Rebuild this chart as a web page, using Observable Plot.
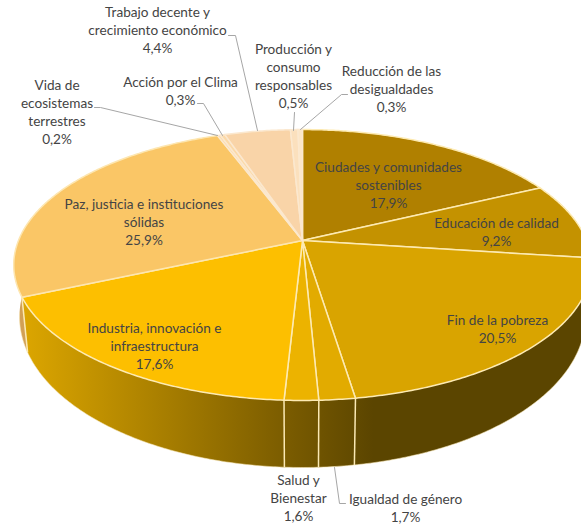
<!DOCTYPE html>
<html><head><meta charset="utf-8">
<script src="https://cdn.jsdelivr.net/npm/d3@7"></script>
<script src="https://cdn.jsdelivr.net/npm/@observablehq/plot@0.6"></script>
<style>html,body{margin:0;padding:0;background:#fff;overflow:hidden}svg{display:block}</style>
</head><body><div id="chart"></div>
<script>
const categories = ["Ciudades y comunidades sostenibles","Educación de calidad","Fin de la pobreza","Igualdad de género","Salud y Bienestar","Industria, innovación e infraestructura","Paz, justicia e instituciones sólidas","Vida de ecosistemas terrestres","Acción por el Clima","Trabajo decente y crecimiento económico","Producción y consumo responsables","Reducción de las desigualdades"];
const values = [17.9,9.2,20.5,1.7,1.6,17.6,25.9,0.2,0.3,4.4,0.5,0.3];
const valueLabels = ["17,9%","9,2%","20,5%","1,7%","1,6%","17,6%","25,9%","0,2%","0,3%","4,4%","0,5%","0,3%"];
const labelLines = [
 "Ciudades y comunidades\nsostenibles","Educación de calidad","Fin de la pobreza","Igualdad de género","Salud y\nBienestar",
 "Industria, innovación e\ninfraestructura","Paz, justicia e instituciones\nsólidas","Vida de\necosistemas\nterrestres","Acción por el Clima",
 "Trabajo decente y\ncrecimiento económico","Producción y\nconsumo\nresponsables","Reducción de las\ndesigualdades"];
const colors = ["#b08000","#c49200","#d9a400","#e2ab00","#ecb300","#fdbf00","#fac666","#fbd9a8","#fbd9a8","#f9d4a8","#fbe0bd","#fce6c8"];
const edgeColors = ["#fdeab2","#fdeab2","#fdeab2","#fdeab2","#fdeab2","#fdeab2","#fde6b0","#fbe8cf","#fbe8cf","#fbe8cf","#fbe8cf","#fbe8cf"];
// label placement (plot units)
const labelX = [388,496,497,405,298,154,143.5,56.5,180,157,293,391];
const labelY = [184,231,328,507,497,345,221,111,90,28.5,75,88];
const leaders = [
 {id:"trabajo",pts:[[228,35],[235,35],[257,130]]},
 {id:"produccion",pts:[[294,112],[293,130]]},
 {id:"reduccion",pts:[[347,94],[341,94],[300,129]]},
 {id:"accion",pts:[[197,103],[203,103],[222,135]]},
 {id:"vida",pts:[[94,107],[100,107],[217,135]]},
 {id:"igualdad",pts:[[345,503],[339,503],[334,467]]}
];
// perspective disc, and the ellipse of the lower edge
const cx=302, cy=240, R=284, S=131, k=0.181;
const topEll={rx:289,ry:135.5,yc:264.5}, lowEll={rx:283,ry:151,yc:316};
function project(a){
  const u=Math.sin(a), v=Math.cos(a), d=1+k*v;
  return {x:cx+R*u/d, y:cy-S*v/d};
}
function lower(a){
  const p=project(a);
  const phi=Math.atan2((p.x-cx)/topEll.rx,(topEll.yc-p.y)/topEll.ry);
  return {x:cx+lowEll.rx*Math.sin(phi), y:lowEll.yc-lowEll.ry*Math.cos(phi)};
}
const total=d3.sum(values);
let cum=0;
const slices=values.map((v,i)=>{const a0=cum/total*2*Math.PI; cum+=v; return {i,a0,a1:cum/total*2*Math.PI};});
function arc(a0,a1,step=0.01){const n=Math.max(2,Math.ceil((a1-a0)/step));return d3.range(n+1).map(j=>a0+(a1-a0)*j/n);}
const topPts=slices.flatMap(s=>{
  const ring=[{x:cx,y:cy},...arc(s.a0,s.a1).map(a=>project(a)),{x:cx,y:cy}];
  return ring.map(p=>({...p,z:s.i,fill:colors[s.i],stroke:edgeColors[s.i]}));
});
function wallRing(a0,a1){
  const as=arc(a0,a1);
  return [...as.map(project),...as.slice().reverse().map(lower)];
}
// walls: front slices share one horizontal shade; Paz has its own tan
const frontWall=wallRing(slices[0].a1*0.9,slices[5].a1);
const pazWall=wallRing(slices[6].a0,slices[6].a0+0.5);
const frontBottom=arc(Math.PI*0.5,Math.PI*1.45).map(a=>lower(a));
const separators=slices.filter(s=>[3,4,5,6].includes(s.i)).map(s=>{const p=project(s.a0),q=lower(s.a0);return {x1:p.x,y1:p.y,x2:q.x,y2:q.y};});
const leaderPts=leaders.flatMap(l=>l.pts.map(([x,y])=>({x,y,z:l.id})));
const labels=categories.map((c,i)=>({text:labelLines[i]+"\n"+valueLabels[i],x:labelX[i],y:labelY[i]}));

function wallGradient(){
  const defs=document.createElementNS("http://www.w3.org/2000/svg","defs");
  defs.innerHTML=`<linearGradient id="wallFront" gradientUnits="userSpaceOnUse" x1="22" y1="0" x2="373" y2="0">
    <stop offset="0" stop-color="#dca600"/><stop offset="0.74" stop-color="#7c5d00"/><stop offset="1" stop-color="#5b4500"/></linearGradient>`;
  return defs;
}
const plot=Plot.plot({
  width:581,height:524,margin:0,
  x:{domain:[0,581],range:[0,581],axis:null},
  y:{domain:[0,524],range:[0,524],axis:null},
  color:{type:"identity"},
  style:{background:"#fff"},
  marks:[
    wallGradient,
    Plot.line(pazWall,{x:"x",y:"y",fill:"#d2a055",curve:"linear-closed"}),
    Plot.line(frontWall,{x:"x",y:"y",fill:"url(#wallFront)",curve:"linear-closed"}),
    Plot.line(frontBottom,{x:"x",y:"y",stroke:"#f5e3b0",strokeWidth:0.8,strokeOpacity:0.7}),
    Plot.link(separators,{x1:"x1",y1:"y1",x2:"x2",y2:"y2",stroke:"#fbe9b4",strokeWidth:1.5}),
    Plot.line(topPts,{x:"x",y:"y",z:"z",fill:"fill",stroke:"stroke",strokeWidth:1.5,strokeLinejoin:"round"}),
    Plot.line(leaderPts,{x:"x",y:"y",z:"z",stroke:"#a6a6a6",strokeWidth:1}),
    Plot.text(labels,{x:"x",y:"y",text:"text",fill:"#444444",fontSize:13.6,lineHeight:1.324,fontFamily:"Lato",textAnchor:"middle"})
  ]
});
document.getElementById("chart").append(plot);
</script></body></html>
